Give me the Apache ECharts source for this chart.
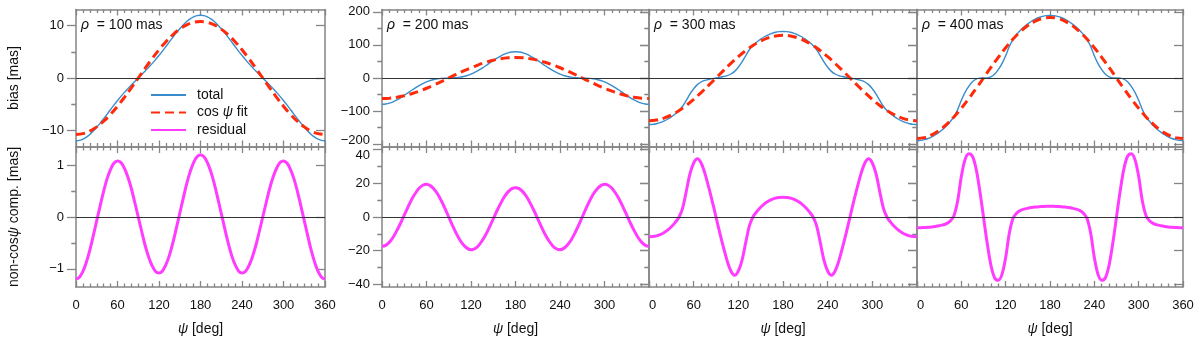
<!DOCTYPE html>
<html><head><meta charset="utf-8">
<script src="https://cdn.jsdelivr.net/npm/echarts@6/dist/echarts.min.js"></script>
<style>html,body{margin:0;padding:0;background:#fff}#c{width:1200px;height:341px}</style>
</head><body><div id="c"></div><script>
// ---- data ----
const psi5 = [0,5,10,15,20,25,30,35,40,45,50,55,60,65,70,75,80,85,90,95,100,105,110,115,120,125,130,135,140,145,150,155,160,165,170,175,180,185,190,195,200,205,210,215,220,225,230,235,240,245,250,255,260,265,270,275,280,285,290,295,300,305,310,315,320,325,330,335,340,345,350,355,360];
const psi10 = [0,10,20,30,40,50,60,70,80,90,100,110,120,130,140,150,160,170,180,190,200,210,220,230,240,250,260,270,280,290,300,310,320,330,340,350,360];
const xTickLabels = [0,60,120,180,240,300,360];
const rhoLabels = ['100','200','300','400'];

// rho = 100 mas
const tot1 = [-12.00,-11.92,-11.69,-11.30,-10.79,-10.15,-9.42,-8.63,-7.77,-6.90,-6.02,-5.15,-4.32,-3.51,-2.75,-2.03,-1.32,-0.66,0,0.66,1.32,2.03,2.75,3.51,4.32,5.15,6.02,6.90,7.77,8.63,9.42,10.15,10.79,11.30,11.69,11.92,12.00,
  11.92,11.69,11.30,10.79,10.15,9.42,8.63,7.77,6.90,6.02,5.15,4.32,3.51,2.75,2.03,1.32,0.66,0,-0.66,-1.32,-2.03,-2.75,-3.51,-4.32,-5.15,-6.02,-6.90,-7.77,-8.63,-9.42,-10.15,-10.79,-11.30,-11.69,-11.92,-12.00];
const fit1 = [-10.8,-10.64,-10.15,-9.35,-8.27,-6.94,-5.4,-3.69,-1.87,0,1.87,3.69,5.4,6.94,8.27,9.35,10.15,10.64,10.8,10.64,10.15,9.35,8.27,6.94,5.4,3.69,1.87,0,-1.87,-3.69,-5.4,-6.94,-8.27,-9.35,-10.15,-10.64,-10.8];
const res1 = [-1.20,-1.16,-1.05,-0.87,-0.64,-0.36,-0.07,0.22,0.50,0.74,0.92,1.04,1.08,1.05,0.94,0.77,0.55,0.28,0,-0.28,-0.55,-0.77,-0.94,-1.05,-1.08,-1.04,-0.92,-0.74,-0.50,-0.22,0.07,0.36,0.64,0.87,1.05,1.16,1.20,
  1.16,1.05,0.87,0.64,0.36,0.07,-0.22,-0.50,-0.74,-0.92,-1.04,-1.08,-1.05,-0.94,-0.77,-0.55,-0.28,0,0.28,0.55,0.77,0.94,1.05,1.08,1.04,0.92,0.74,0.50,0.22,-0.07,-0.36,-0.64,-0.87,-1.05,-1.16,-1.20];

// rho = 200 mas
const tot2 = [-79.4,-78.5,-76.0,-71.9,-66.4,-59.9,-52.6,-44.9,-37.1,-29.7,-22.8,-16.8,-11.7,-7.6,-4.6,-2.5,-1.2,-0.5,0,0.5,1.2,2.5,4.6,7.6,11.7,16.8,22.8,29.7,37.1,44.9,52.6,59.9,66.4,71.9,76.0,78.5,79.4,
  78.5,76.0,71.9,66.4,59.9,52.6,44.9,37.1,29.7,22.8,16.8,11.7,7.6,4.6,2.5,1.2,0.5,0,-0.5,-1.2,-2.5,-4.6,-7.6,-11.7,-16.8,-22.8,-29.7,-37.1,-44.9,-52.6,-59.9,-66.4,-71.9,-76.0,-78.5,-79.4];
const fit2 = [-62,-61.1,-58.3,-53.7,-47.5,-39.9,-31,-21.2,-10.8,0,10.8,21.2,31,39.9,47.5,53.7,58.3,61.1,62,61.1,58.3,53.7,47.5,39.9,31,21.2,10.8,0,-10.8,-21.2,-31,-39.9,-47.5,-53.7,-58.3,-61.1,-62];
const res2 = [-17.4,-16.8,-14.9,-12.0,-8.1,-3.7,1.1,5.9,10.4,14.1,17.0,18.8,19.4,18.6,16.6,13.6,9.6,5.0,0,-5.0,-9.6,-13.6,-16.6,-18.6,-19.4,-18.8,-17.0,-14.1,-10.4,-5.9,-1.1,3.7,8.1,12.0,14.9,16.8,17.4,
  16.8,14.9,12.0,8.1,3.7,-1.1,-5.9,-10.4,-14.1,-17.0,-18.8,-19.4,-18.6,-16.6,-13.6,-9.6,-5.0,0,5.0,9.6,13.6,16.6,18.6,19.4,18.8,17.0,14.1,10.4,5.9,1.1,-3.7,-8.1,-12.0,-14.9,-16.8,-17.4];

// rho = 300 mas
const tot3 = [-140.7,-140.1,-138.2,-135.0,-130.5,-124.7,-117.5,-109.0,-99.1,-86.2,-67.9,-48.5,-32.5,-20.0,-12.1,-7.4,-4.4,-2.0,0,2.0,4.4,7.4,12.1,20.0,32.5,48.5,67.9,86.2,99.1,109.0,117.5,124.7,130.5,135.0,138.2,140.1,140.7,
  140.1,138.2,135.0,130.5,124.7,117.5,109.0,99.1,86.2,67.9,48.5,32.5,20.0,12.1,7.4,4.4,2.0,0,-2.0,-4.4,-7.4,-12.1,-20.0,-32.5,-48.5,-67.9,-86.2,-99.1,-109.0,-117.5,-124.7,-130.5,-135.0,-138.2,-140.1,-140.7];
const fit3 = [-129,-127.0,-121.2,-111.7,-98.8,-82.9,-64.5,-44.1,-22.4,0,22.4,44.1,64.5,82.9,98.8,111.7,121.2,127.0,129,127.0,121.2,111.7,98.8,82.9,64.5,44.1,22.4,0,-22.4,-44.1,-64.5,-82.9,-98.8,-111.7,-121.2,-127.0,-129];
const res3 = [-11.7,-11.6,-11.2,-10.4,-9.3,-7.8,-5.8,-3.3,-0.3,5,15,25.5,32,34.5,32,26,18,9.3,0,-9.3,-18,-26,-32,-34.5,-32,-25.5,-15,-5,0.3,3.3,5.8,7.8,9.3,10.4,11.2,11.6,11.7,
  11.6,11.2,10.4,9.3,7.8,5.8,3.3,0.3,-5,-15,-25.5,-32,-34.5,-32,-26,-18,-9.3,0,9.3,18,26,32,34.5,32,25.5,15,5,-0.3,-3.3,-5.8,-7.8,-9.3,-10.4,-11.2,-11.6,-11.7];

// rho = 400 mas
const tot4 = [-189.3,-188.6,-186.4,-182.9,-177.9,-171.5,-163.7,-154.6,-144.1,-131.8,-116.8,-95.5,-67.5,-43.3,-25.1,-11.4,-3.3,-0.5,0,0.5,3.3,11.4,25.1,43.3,67.5,95.5,116.8,131.8,144.1,154.6,163.7,171.5,177.9,182.9,186.4,188.6,189.3,
  188.6,186.4,182.9,177.9,171.5,163.7,154.6,144.1,131.8,116.8,95.5,67.5,43.3,25.1,11.4,3.3,0.5,0,-0.5,-3.3,-11.4,-25.1,-43.3,-67.5,-95.5,-116.8,-131.8,-144.1,-154.6,-163.7,-171.5,-177.9,-182.9,-186.4,-188.6,-189.3];
const fit4 = [-183,-180.2,-172.0,-158.5,-140.2,-117.6,-91.5,-62.6,-31.8,0,31.8,62.6,91.5,117.6,140.2,158.5,172.0,180.2,183,180.2,172.0,158.5,140.2,117.6,91.5,62.6,31.8,0,-31.8,-62.6,-91.5,-117.6,-140.2,-158.5,-172.0,-180.2,-183];
const res4 = [-6.3,-6.3,-6.2,-6.1,-5.9,-5.6,-5.2,-4.7,-3.9,-2.4,0.8,9.5,24,34,37.5,36,28.5,15.5,0,-15.5,-28.5,-36,-37.5,-34,-24,-9.5,-0.8,2.4,3.9,4.7,5.2,5.6,5.9,6.1,6.2,6.3,6.3,
  6.3,6.2,6.1,5.9,5.6,5.2,4.7,3.9,2.4,-0.8,-9.5,-24,-34,-37.5,-36,-28.5,-15.5,0,15.5,28.5,36,37.5,34,24,9.5,0.8,-2.4,-3.9,-4.7,-5.2,-5.6,-5.9,-6.1,-6.2,-6.3,-6.3];

// y tick labels
const yTop1Major = [-10,0,10], yTop1Minor = [-5,5];
const yTopMajor = [-200,-100,0,100,200], yTopMinor = [-150,-50,50,150];
const yBot1Major = [-1,0,1], yBot1Minor = [-0.5,0.5];
const yBotMajor = [-40,-20,0,20,40], yBotMinor = [-30,-10,10,30];
const yTop1Range = [-13.1,13.1], yTopRange = [-207,207];
const yBot1Range = [-1.35,1.35], yBotRange = [-41.5,41.5];

// ---- build ----
const FONT = "'Liberation Sans', Arial, Helvetica, sans-serif";
const panels = [
  {rho:rhoLabels[0], tot:tot1, fit:fit1, res:res1, tR:yTop1Range, tM:yTop1Major, tm:yTop1Minor, bR:yBot1Range, bM:yBot1Major, bm:yBot1Minor},
  {rho:rhoLabels[1], tot:tot2, fit:fit2, res:res2, tR:yTopRange, tM:yTopMajor, tm:yTopMinor, bR:yBotRange, bM:yBotMajor, bm:yBotMinor},
  {rho:rhoLabels[2], tot:tot3, fit:fit3, res:res3, tR:yTopRange, tM:yTopMajor, tm:yTopMinor, bR:yBotRange, bM:yBotMajor, bm:yBotMinor},
  {rho:rhoLabels[3], tot:tot4, fit:fit4, res:res4, tR:yTopRange, tM:yTopMajor, tm:yTopMinor, bR:yBotRange, bM:yBotMajor, bm:yBotMinor}
];
const colBoxes = [[76,249],[382,267],[649,268],[917,266]];
const rowBoxes = [[9.5,137],[147,140]];
const AX = {color:'#858585', width:1.5};
const TK = {color:'#858585', width:1.3};
const richI = {i:{fontStyle:'italic', fontSize:14, fontFamily:FONT, color:'#111'}};
const richTick = {
  up:{fontSize:13, fontFamily:FONT, color:'#111', padding:[0,0,7,0]},
  dn:{fontSize:13, fontFamily:FONT, color:'#111', padding:[12,0,0,0]}
};
// edge labels of the right-hand scales nudged apart like the original
const makeFmt = (isBot, pi) => v => {
  const s = String(v).replace('-', '\u2212');
  if (pi === 1 && !isBot && v === -200) return '{up|' + s + '}';
  if (pi === 1 && isBot && v === 40) return '{dn|' + s + '}';
  return s;
};

const grid=[], xAxis=[], yAxis=[], series=[], title=[];
const zeroLine = {silent:true, symbol:['none','none'], label:{show:false}, lineStyle:{color:'#333', width:1, type:'solid'}, data:[{yAxis:0}], animation:false};

panels.forEach((p, pi) => {
  title.push({text:'{i|\u03c1}  = ' + p.rho + ' mas', left: colBoxes[pi][0] + 5, top: 18, padding:0,
    textStyle:{fontSize:14, fontWeight:'normal', color:'#111', fontFamily:FONT, rich:{i:{fontStyle:'italic', fontSize:14, fontFamily:FONT, color:'#111'}}}});
  [0,1].forEach(row => {
    const isBot = row === 1;
    const gi = grid.length;
    grid.push({left:colBoxes[pi][0], width:colBoxes[pi][1], top:rowBoxes[row][0], height:rowBoxes[row][1]});
    const R = isBot ? p.bR : p.tR, M = isBot ? p.bM : p.tM, m = isBot ? p.bm : p.tm;
    const xb = xAxis.length;
    ['bottom','top'].forEach(pos => {
      const showLab = isBot && pos === 'bottom';
      xAxis.push({type:'value', gridIndex:gi, position:pos, min:0, max:360, interval:60,
        axisLine:{show:true, onZero:false, lineStyle:AX},
        axisTick:{show:true, inside:true, length:6, lineStyle:TK},
        minorTick:{show:true, splitNumber:6, length:3.5, lineStyle:TK},
        splitLine:{show:false}, minorSplitLine:{show:false},
        axisLabel:{show:showLab, margin:12, fontSize:13, color:'#111', fontFamily:FONT,
          showMinLabel:true, showMaxLabel:(pi===0||pi===3), alignMinLabel:(pi>=2?'left':null), customValues:xTickLabels},
        name: showLab ? '{i|\u03c8} [deg]' : '', nameLocation:'middle', nameGap:35,
        nameTextStyle:{fontSize:14, color:'#111', fontFamily:FONT, rich:richI}
      });
    });
    const yl = yAxis.length;
    const yName = pi === 0 ? (isBot ? 'non-cos{i|\u03c8} comp. [mas]' : 'bias [mas]') : '';
    yAxis.push({type:'value', gridIndex:gi, position:'left', min:R[0], max:R[1],
      axisLine:{show:true, onZero:false, lineStyle:AX},
      axisTick:{show:true, inside:false, length:9, customValues:M, lineStyle:TK},
      axisLabel:{show:pi<=1, customValues:M, margin:12, fontSize:13, color:'#111', fontFamily:FONT, formatter:makeFmt(isBot, pi), rich:richTick},
      splitLine:{show:false},
      name:yName, nameLocation:'middle', nameGap:55, nameRotate:90,
      nameTextStyle:{fontSize:14, color:'#111', fontFamily:FONT, rich:richI}});
    yAxis.push({type:'value', gridIndex:gi, position:'left', min:R[0], max:R[1],
      axisLine:{show:false}, axisTick:{show:true, inside:false, length:4.5, customValues:m, lineStyle:TK},
      axisLabel:{show:false}, splitLine:{show:false}});
    yAxis.push({type:'value', gridIndex:gi, position:'right', min:R[0], max:R[1],
      axisLine:{show:true, onZero:false, lineStyle:AX},
      axisTick:{show:true, inside:true, length:9, customValues:M, lineStyle:TK},
      axisLabel:{show:false}, splitLine:{show:false}});
    yAxis.push({type:'value', gridIndex:gi, position:'right', min:R[0], max:R[1],
      axisLine:{show:false}, axisTick:{show:true, inside:true, length:4.5, customValues:m, lineStyle:TK},
      axisLabel:{show:false}, splitLine:{show:false}});

    if (!isBot) {
      series.push({type:'line', name:'total', xAxisIndex:xb, yAxisIndex:yl, symbol:'none', showSymbol:false, smooth:0.35,
        data: psi5.map((x,i)=>[x, p.tot[i]]), lineStyle:{color:'#3a8dcc', width:1.4}, itemStyle:{color:'#3a8dcc'},
        markLine: zeroLine, z:2});
      series.push({type:'line', name:'cos \u03c8 fit', xAxisIndex:xb, yAxisIndex:yl, symbol:'none', showSymbol:false, smooth:0.4,
        data: psi10.map((x,i)=>[x, p.fit[i]]), lineStyle:{color:'#ff2a0a', width:3, type:[9,5]}, itemStyle:{color:'#ff2a0a'}, z:3});
    } else {
      series.push({type:'line', name:'residual', xAxisIndex:xb, yAxisIndex:yl, symbol:'none', showSymbol:false, smooth:0.35,
        data: psi5.map((x,i)=>[x, p.res[i]]), lineStyle:{color:'#ff3cff', width:3}, itemStyle:{color:'#ff3cff'},
        markLine: zeroLine, z:2});
    }
  });
});

const chart = echarts.init(document.getElementById('c'), null, {renderer:'canvas'});
chart.setOption({
  animation:false,
  backgroundColor:'#ffffff',
  textStyle:{fontFamily:FONT},
  title: title,
  legend:{data:['total','cos \u03c8 fit','residual'], orient:'vertical', left:150, top:88,
    itemWidth:35, itemHeight:14, itemGap:3.5, padding:0,
    itemStyle:{opacity:0, color:'rgba(0,0,0,0)', borderWidth:0},
    formatter: n => n === 'cos \u03c8 fit' ? 'cos {i|\u03c8} fit' : n,
    textStyle:{fontSize:14, color:'#111', fontFamily:FONT, padding:[0,0,0,6], rich:richI}},
  grid, xAxis, yAxis, series
});
</script></body></html>
